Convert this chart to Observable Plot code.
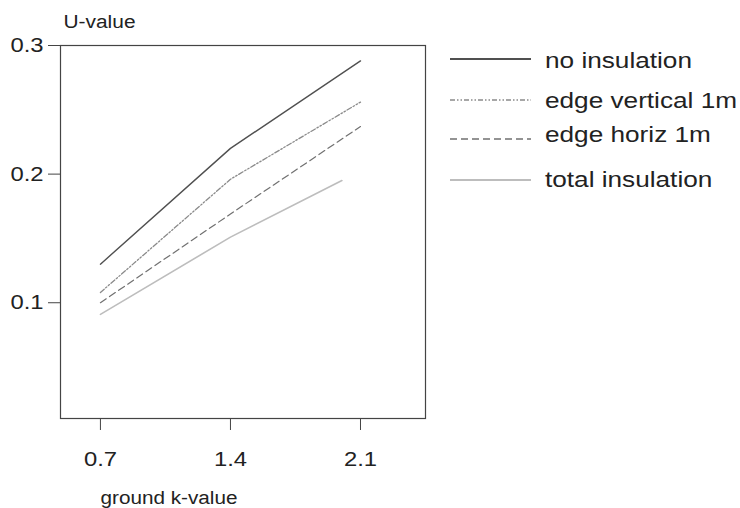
<!DOCTYPE html>
<html>
<head>
<meta charset="utf-8">
<script src="https://cdn.jsdelivr.net/npm/d3@7"></script>
<script src="https://cdn.jsdelivr.net/npm/@observablehq/plot@0.6"></script>
<style>
  html, body { margin: 0; padding: 0; background: #fff; }
  #wrap { position: relative; width: 740px; height: 508px; font-family: "Liberation Sans", Arial, sans-serif; }
  #legend { position: absolute; left: 0; top: 0; }
</style>
</head>
<body>
<div id="wrap"></div>
<script>
// Data
const seriesNames = ["no insulation", "edge vertical 1m", "edge horiz 1m", "total insulation"];
const kNoIns   = [0.7, 1.4, 2.1];
const uNoIns   = [0.130, 0.220, 0.288];
const kVert    = [0.7, 1.4, 2.1];
const uVert    = [0.108, 0.196, 0.256];
const kHoriz   = [0.7, 1.4, 2.1];
const uHoriz   = [0.100, 0.169, 0.237];
const kTotal   = [0.7, 1.4, 2.0];
const uTotal   = [0.091, 0.151, 0.195];
const xTicks = [0.7, 1.4, 2.1];
const yTicks = [0.1, 0.2, 0.3];

const styles = {
  "no insulation":    {stroke: "#505050", dash: null,               width: 1.4},
  "edge vertical 1m": {stroke: "#8a8a8a", dash: "5,2,1.5,2,1.5,2",  width: 1.3},
  "edge horiz 1m":    {stroke: "#707070", dash: "7,4",              width: 1.2},
  "total insulation": {stroke: "#bdbdbd", dash: null,               width: 1.6}
};

const ks = [kNoIns, kVert, kHoriz, kTotal];
const us = [uNoIns, uVert, uHoriz, uTotal];
const rows = [];
seriesNames.forEach((s, i) => ks[i].forEach((k, j) => rows.push({series: s, k, u: us[i][j]})));

const lineMarks = seriesNames.map(s => Plot.line(rows.filter(d => d.series === s), {
  x: "k", y: "u",
  stroke: styles[s].stroke,
  strokeWidth: styles[s].width,
  strokeDasharray: styles[s].dash
}));

const chart = Plot.plot({
  width: 740,
  height: 508,
  marginLeft: 60,
  marginRight: 315,
  marginTop: 45,
  marginBottom: 90,
  style: {fontFamily: "Liberation Sans, Arial, sans-serif", fontSize: "20px", color: "#222", background: "#fff"},
  x: {domain: [0.485, 2.45], ticks: xTicks},
  y: {domain: [0.01, 0.3], ticks: yTicks},
  marks: [
    Plot.frame({stroke: "#444", strokeWidth: 1.2}),
    Plot.axisY({ticks: yTicks, tickSize: 12, tickPadding: 5, label: null, tickFormat: d3.format(".1f"), fontSize: 20, stroke: "#444", className: "ytick"}),
    Plot.axisX({ticks: xTicks, tickSize: 12, tickPadding: 21, label: null, tickFormat: d3.format(".1f"), fontSize: 20, stroke: "#444", className: "xtick"}),
    ...lineMarks,
    Plot.text(["U-value"], {frameAnchor: "top-left", dx: 3, dy: -24, textAnchor: "start", lineAnchor: "middle", fontSize: 19, className: "ulab"}),
    Plot.text(["ground k-value"], {frameAnchor: "bottom-left", dx: 40, dy: 79, textAnchor: "start", lineAnchor: "middle", fontSize: 19, className: "glab"})
  ]
});
document.getElementById("wrap").appendChild(chart);

// widen glyphs horizontally to match the reference typeface
function widen(sel, s) {
  d3.select(chart).selectAll(sel).each(function () {
    const el = d3.select(this);
    const t = el.attr("transform");
    if (t) {
      el.attr("transform", t + ` scale(${s},1)`);
    } else {
      const x = +el.attr("x") || 0, y = +el.attr("y") || 0;
      el.attr("x", null).attr("y", null).attr("transform", `translate(${x},${y}) scale(${s},1)`);
    }
  });
}
widen(".ytick text, .xtick text", 1.19);
widen(".ulab text", 1.1);
widen(".glab text", 1.09);

// Legend (SVG overlay)
const rowLineY = [59, 100, 139, 180];
const rowTextY = [68, 108, 142, 187];
const svgNS = "http://www.w3.org/2000/svg";
const leg = d3.select("#wrap").append("svg")
  .attr("id", "legend").attr("width", 740).attr("height", 508)
  .style("pointer-events", "none");
seriesNames.forEach((s, i) => {
  const st = styles[s];
  leg.append("line")
    .attr("x1", 450).attr("x2", 531)
    .attr("y1", rowLineY[i]).attr("y2", rowLineY[i])
    .attr("stroke", st.stroke).attr("stroke-width", st.width + 0.4)
    .attr("stroke-dasharray", st.dash);
  leg.append("text")
    .attr("transform", `translate(545,${rowTextY[i]}) scale(1.19,1)`)
    .attr("font-family", "Liberation Sans, Arial, sans-serif")
    .attr("font-size", 22)
    .attr("fill", "#222")
    .text(s);
});
</script>
</body>
</html>
